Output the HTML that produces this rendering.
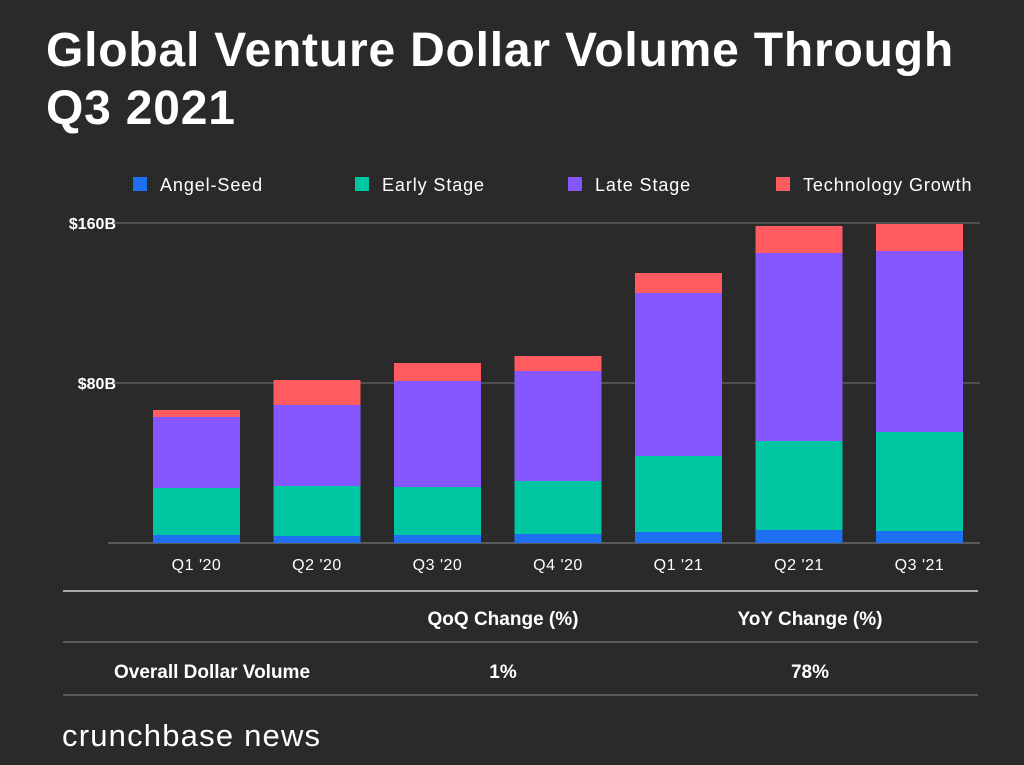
<!DOCTYPE html>
<html><head><meta charset="utf-8"><style>
body{margin:0;background:#2a2a2a;width:1024px;height:765px;overflow:hidden;font-family:"Liberation Sans",sans-serif;color:#fff}
#title{position:absolute;left:46px;top:22px;font-size:48px;font-weight:bold;line-height:58px;margin:0;letter-spacing:0.8px}
svg{position:absolute;left:0;top:0}
</style></head><body>
<h1 id="title">Global Venture Dollar Volume Through<br>Q3 2021</h1>
<svg id="c" width="1024" height="765"></svg>
<script>
const categories=["Q1 '20","Q2 '20","Q3 '20","Q4 '20","Q1 '21","Q2 '21","Q3 '21"];
const angelSeed=[4,3.5,4,4.5,5.5,6.5,6];
const earlyStage=[23.5,25,24,26.5,38,44.5,49.5];
const lateStage=[35.5,40.5,53,55,81.5,94,90.5];
const techGrowth=[3.5,12.5,9,7.5,10,13.5,13.5];
const seriesNames=["Angel-Seed","Early Stage","Late Stage","Technology Growth"];
const yTicks=[80,160];
const yTickLabels=["$80B","$160B"];
const colors=["#1f6ff2","#00c6a2","#8656ff","#ff5b61"];
const NS="http://www.w3.org/2000/svg",svg=document.getElementById('c');
function el(t,a,txt){const e=document.createElementNS(NS,t);for(const k in a)e.setAttribute(k,a[k]);if(txt!=null)e.textContent=txt;svg.appendChild(e);return e;}
const y0=543,pxPer=2;
const y=v=>y0-v*pxPer;
const x=i=>153+i*120.5;
const bw=87;
yTicks.forEach((t,i)=>{
 let g=el('line',{x1:108,x2:980,y1:y(t),y2:y(t),stroke:'#777','stroke-width':1});
 
 
 let l=el('text',{x:116,y:y(t)+6,'text-anchor':'end','font-size':16,fill:'#fff','font-weight':'bold'},yTickLabels[i]);
 
 
});
let ax=el('line',{x1:108,x2:980,y1:y0,y2:y0,stroke:'#888','stroke-width':1});


const series=[angelSeed,earlyStage,lateStage,techGrowth];
categories.forEach((c,i)=>{
 let cum=0;
 series.forEach((s,j)=>{
  const r=el('rect',{x:x(i),y:y(cum+s[i]),width:bw,height:s[i]*pxPer,fill:colors[j]});
  
  
  cum+=s[i];
 });
 const t=el('text',{x:x(i)+bw/2,y:570,'text-anchor':'middle','font-size':16,fill:'#fff','letter-spacing':0.5},c);
 
 
});
const lx=[133,355,568,776];
seriesNames.forEach((n,j)=>{
 const r=el('rect',{x:lx[j],y:177,width:14,height:14,fill:colors[j]});
 
 
 const t=el('text',{x:lx[j]+27,y:191,'font-size':18,fill:'#fff','letter-spacing':0.9},n);
 
 
});
[[63,591,978,591,'#aaa',2],[63,642,978,642,'#888',1],[63,695,978,695,'#888',1]].forEach(a=>{
 const l=el('line',{x1:a[0],y1:a[1],x2:a[2],y2:a[3],stroke:a[4],'stroke-width':a[5]});
 
 
});
[[503,625,'QoQ Change (%)','table-header-qoq'],[810,625,'YoY Change (%)','table-header-yoy'],[212,678,'Overall Dollar Volume','table-row-label'],[503,678,'1%','qoq-value'],[810,678,'78%','yoy-value']].forEach(a=>{
 const t=el('text',{x:a[0],y:a[1],'text-anchor':'middle','font-size':19,fill:'#fff','font-weight':'bold'},a[2]);
 
 
});
const b=el('text',{x:62,y:746,'font-size':31,fill:'#fff','letter-spacing':1.2},'crunchbase news');


</script>
</body></html>
